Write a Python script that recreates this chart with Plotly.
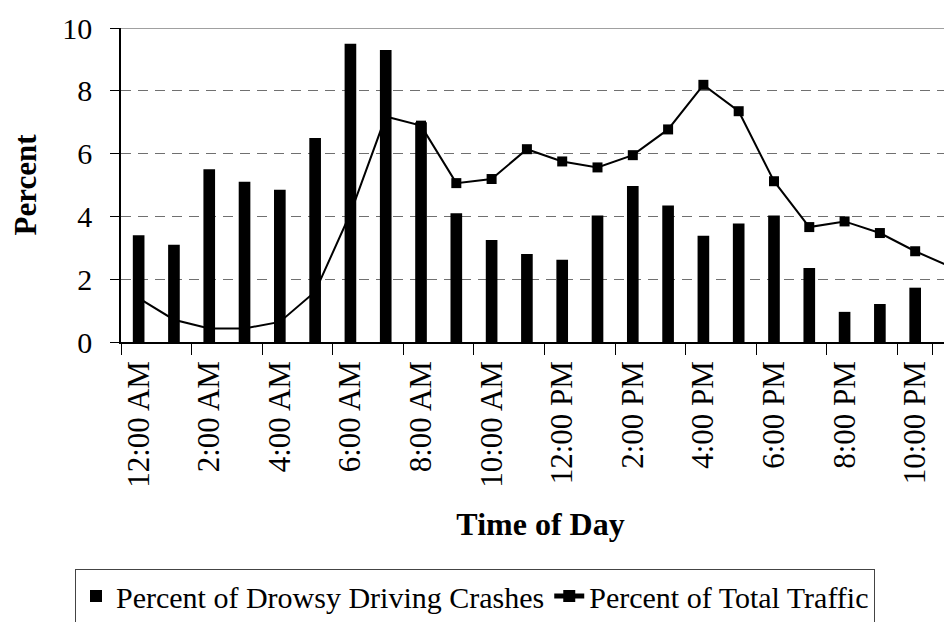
import plotly.graph_objects as go

hours = ["12:00 AM", "1:00 AM", "2:00 AM", "3:00 AM", "4:00 AM", "5:00 AM",
         "6:00 AM", "7:00 AM", "8:00 AM", "9:00 AM", "10:00 AM", "11:00 AM",
         "12:00 PM", "1:00 PM", "2:00 PM", "3:00 PM", "4:00 PM", "5:00 PM",
         "6:00 PM", "7:00 PM", "8:00 PM", "9:00 PM", "10:00 PM", "11:00 PM"]

drowsy_crashes = [3.4, 3.1, 5.5, 5.1, 4.85, 6.5, 9.5, 9.3, 7.0, 4.1, 3.25, 2.8,
                  2.62, 4.03, 4.97, 4.35, 3.38, 3.77, 4.03, 2.36, 0.96, 1.21, 1.73, 2.48]

total_traffic = [1.4, 0.71, 0.43, 0.43, 0.64, 1.6, 4.1, 7.18, 6.89, 5.06, 5.19, 6.14,
                 5.75, 5.56, 5.95, 6.77, 8.19, 7.35, 5.12, 3.66, 3.84, 3.47, 2.89, 2.4]

y_ticks = [0, 2, 4, 6, 8, 10]

FONT = "Liberation Serif, Times New Roman, serif"

fig = go.Figure()
fig.add_trace(go.Bar(
    x=hours, y=drowsy_crashes, name="Percent of Drowsy Driving Crashes",
    marker=dict(color="black", line=dict(width=0)), width=0.33,
))
fig.add_trace(go.Scatter(
    x=hours, y=total_traffic, name="Percent of Total Traffic",
    mode="lines+markers", line=dict(color="black", width=2),
    marker=dict(symbol="square", size=10, color="black"),
))

fig.add_shape(type="line", xref="paper", yref="y", x0=0, x1=1, y0=10, y1=10,
              line=dict(color="#808080", width=1.5))

fig.update_layout(
    width=952, height=622,
    margin=dict(l=113, r=0, t=20, b=288),
    paper_bgcolor="white", plot_bgcolor="white",
    font=dict(family=FONT, color="black", size=30),
    showlegend=True,
    legend=dict(
        orientation="h", xref="container", yref="container",
        x=67 / 952, y=1 - 561 / 622, xanchor="left", yanchor="top",
        bordercolor="#444444", borderwidth=1, bgcolor="white",
        font=dict(family=FONT, size=30, color="black"),
        traceorder="normal", itemsizing="constant",
    ),
    hovermode=False,
)

fig.update_xaxes(
    type="category", range=[-0.5, 23.27], automargin=False,
    tickmode="array", tickvals=hours[::2], ticktext=hours[::2],
    tickson="boundaries", ticks="outside", ticklen=11, tickcolor="black",
    tickangle=-90, tickfont=dict(family=FONT, size=31),
    ticklabelstandoff=5,
    showline=True, linecolor="black", linewidth=1.5,
    showgrid=False,
    title=dict(text="<b>Time of Day</b>", font=dict(family=FONT, size=32), standoff=26),
)

fig.update_yaxes(
    range=[0, 10], tickmode="array", tickvals=y_ticks, automargin=False,
    ticks="outside", ticklen=9, tickcolor="black",
    tickfont=dict(family=FONT, size=30), ticklabelstandoff=12,
    showline=True, linecolor="black", linewidth=1.5,
    showgrid=True, gridcolor="#707070", gridwidth=1, griddash="10px,7px",
    zeroline=False,
    title=dict(text="<b>Percent</b>", font=dict(family=FONT, size=31), standoff=26),
)

fig.write_html("out.html")
